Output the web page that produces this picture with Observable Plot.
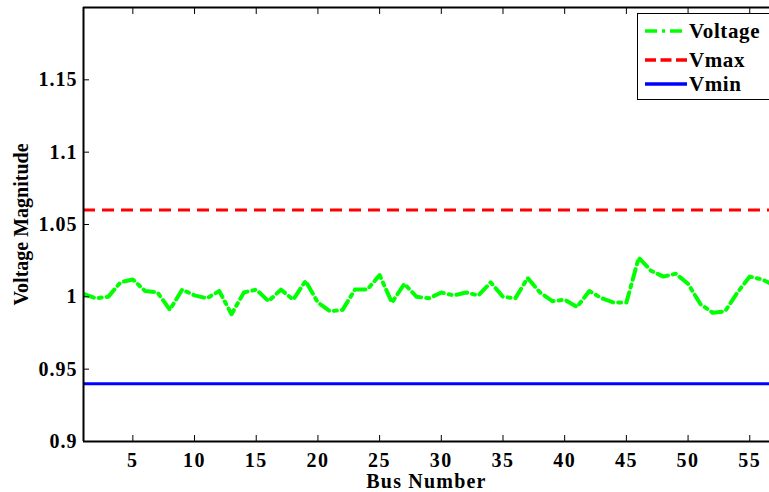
<!DOCTYPE html>
<html><head><meta charset="utf-8">
<script src="https://cdn.jsdelivr.net/npm/d3@7"></script>
<script src="https://cdn.jsdelivr.net/npm/@observablehq/plot@0.6"></script>
<style>
body{margin:0;background:#fff;}
#wrap{position:relative;width:769px;height:492px;overflow:hidden;}
.legend{position:absolute;left:637px;top:13px;width:150px;height:87px;border:1px solid #000;background:#fff;box-sizing:border-box;font-family:"Liberation Serif","Times New Roman",serif;font-weight:bold;font-size:21px;letter-spacing:0.6px;color:#000;}
.row{position:absolute;left:7px;height:24px;display:flex;align-items:center;white-space:nowrap;}
.row svg{margin-right:2px;display:block;}
g[aria-label="x-axis tick label"] text{letter-spacing:1.5px;}
g[aria-label="y-axis tick label"] text{letter-spacing:1px;}
g[aria-label="x-axis label"] text{letter-spacing:1.2px;}
</style></head><body><div id="wrap"></div>
<script>
const bus = [1,2,3,4,5,6,7,8,9,10,11,12,13,14,15,16,17,18,19,20,21,22,23,24,25,26,27,28,29,30,31,32,33,34,35,36,37,38,39,40,41,42,43,44,45,46,47,48,49,50,51,52,53,54,55,56,57];
const voltage = [1.002,0.999,1.000,1.010,1.012,1.004,1.003,0.991,1.005,1.001,0.999,1.004,0.988,1.003,1.005,0.997,1.005,0.998,1.011,0.996,0.990,0.991,1.005,1.005,1.015,0.996,1.009,1.000,0.999,1.003,1.001,1.003,1.001,1.010,1.000,0.999,1.013,1.003,0.997,0.998,0.993,1.004,0.999,0.996,0.996,1.027,1.018,1.014,1.016,1.009,0.995,0.989,0.990,1.003,1.014,1.012,1.008];
const vmax = [1.06];
const vmin = [0.94];
const xTicks = [5,10,15,20,25,30,35,40,45,50,55];
const yTicks = [0.9,0.95,1,1.05,1.1,1.15];
const yTickLabels = ["0.9","0.95","1","1.05","1.1","1.15"];
const seriesNames = ["Voltage","Vmax","Vmin"];
const seriesColors = ["#00ff00","#ff0000","#0000ff"];
const seriesDash = ["11,5,3,5","12,7","none"];
const legendDash = ["12,5,3,5","11,4.5","none"];

const data = bus.map((b,i)=>({bus:b, v:voltage[i]}));
const font = '"Liberation Serif","Times New Roman",serif';

const plot = Plot.plot({
  width:769, height:492,
  marginLeft:83, marginRight:0, marginTop:7, marginBottom:51,
  style:{fontFamily:font, fontSize:"20px", fontWeight:"bold", background:"#fff", color:"#000", overflow:"visible"},
  x:{domain:[1,56.6]},
  y:{domain:[0.9,1.2]},
  marks:[
    Plot.ruleY(vmax,{stroke:seriesColors[1], strokeWidth:3, strokeDasharray:seriesDash[1]}),
    Plot.ruleY(vmin,{stroke:seriesColors[2], strokeWidth:3}),
    Plot.line(data,{x:"bus", y:"v", stroke:seriesColors[0], strokeWidth:4, strokeDasharray:seriesDash[0], clip:true}),
    Plot.axisX(xTicks,{anchor:"bottom", tickSize:0, tickPadding:11, label:"Bus Number", labelAnchor:"center", labelOffset:46, labelArrow:"none"}),
    Plot.axisX(xTicks,{anchor:"bottom", tickSize:6, dy:-6, tickFormat:()=>"", label:null}),
    Plot.axisX(xTicks,{anchor:"top", tickSize:6, dy:6, tickFormat:()=>"", label:null}),
    Plot.axisY(yTicks,{anchor:"left", tickSize:0, tickPadding:6, tickFormat:d=>yTickLabels[yTicks.indexOf(d)], label:"Voltage Magnitude", labelAnchor:"center", labelOffset:70, labelArrow:"none"}),
    Plot.axisY(yTicks,{anchor:"left", tickSize:6, dx:6, tickFormat:()=>"", label:null}),
    Plot.ruleY([0.9,1.2],{stroke:"#000", strokeWidth:2}),
    Plot.ruleX([1],{stroke:"#000", strokeWidth:2})
  ]
});

const wrap = document.getElementById("wrap");
wrap.appendChild(plot);

const legend = d3.select(wrap).append("div").attr("class","legend");
const rowTops = [5, 34, 58];
seriesNames.forEach((name,i)=>{
  const row = legend.append("div").attr("class","row").style("top", rowTops[i]+"px");
  const s = row.append("svg").attr("width",42).attr("height",8);
  s.append("line").attr("x1",0).attr("x2",42).attr("y1",4).attr("y2",4)
    .attr("stroke",seriesColors[i]).attr("stroke-width",3.5)
    .attr("stroke-dasharray",legendDash[i]);
  row.append("span").text(name);
});
</script>
</body></html>
